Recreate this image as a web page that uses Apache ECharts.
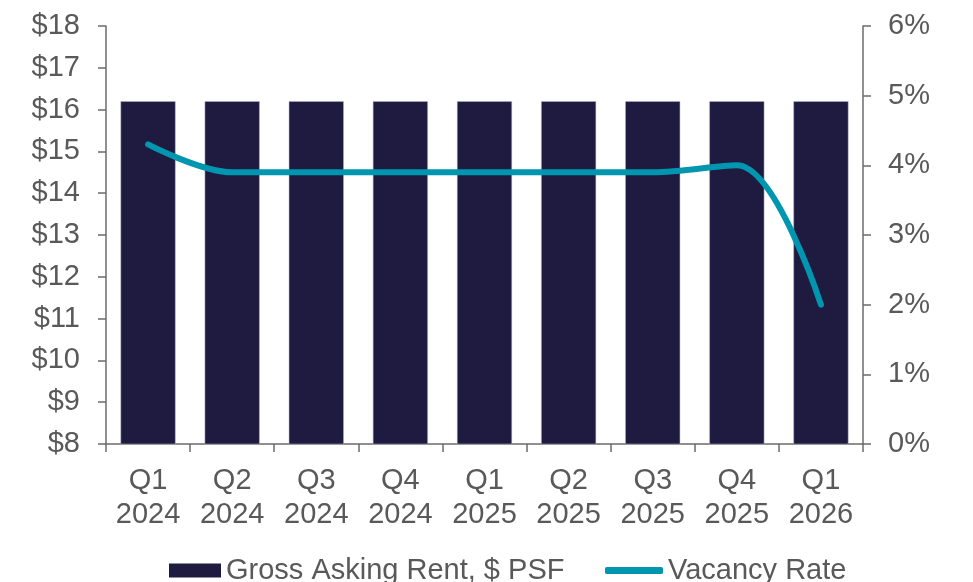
<!DOCTYPE html>
<html>
<head>
<meta charset="utf-8">
<script src="https://cdn.jsdelivr.net/npm/echarts@6/dist/echarts.min.js"></script>
<style>html,body{margin:0;padding:0;background:#fff;}#c{width:973px;height:582px;}</style>
</head>
<body>
<div id="c"></div>
<script>
const categories = ['Q1\n2024','Q2\n2024','Q3\n2024','Q4\n2024','Q1\n2025','Q2\n2025','Q3\n2025','Q4\n2025','Q1\n2026'];
const rentValues = [16.2, 16.2, 16.2, 16.2, 16.2, 16.2, 16.2, 16.2, 16.2];
const vacancyValues = [4.3, 3.9, 3.9, 3.9, 3.9, 3.9, 3.9, 4.0, 2.0];
const rentName = 'Gross Asking Rent, $ PSF';
const vacancyName = 'Vacancy Rate';

const textColor = '#595959';
const axisColor = '#6b6b6b';
const font = 'Liberation Sans, Arial, sans-serif';
const fs = 29;

const chart = echarts.init(document.getElementById('c'));
chart.setOption({
  animation: false,
  textStyle: { fontFamily: font },
  grid: { left: 106, right: 110, top: 26, bottom: 138 },
  legend: [
    {
      data: [rentName], left: 164, top: 551, itemWidth: 52, itemHeight: 14, itemGap: 44,
      icon: 'rect', itemStyle: { borderWidth: 0 },
      textStyle: { color: textColor, fontSize: fs, fontFamily: font }
    },
    {
      data: [{ name: vacancyName, icon: 'roundRect' }], left: 600, top: 551, itemWidth: 58, itemHeight: 7,
      textStyle: { color: textColor, fontSize: fs, fontFamily: font }
    }
  ],
  xAxis: {
    type: 'category', data: categories,
    axisLine: { lineStyle: { color: axisColor, width: 1.5 } },
    axisTick: { show: true, length: 8, lineStyle: { color: axisColor, width: 1.5 } },
    axisLabel: { color: textColor, fontSize: fs, lineHeight: 34, margin: 20, fontFamily: font }
  },
  yAxis: [
    {
      type: 'value', min: 8, max: 18, interval: 1,
      splitLine: { show: false },
      axisLine: { show: true, lineStyle: { color: axisColor, width: 1.5 } },
      axisTick: { show: true, length: 8, lineStyle: { color: axisColor, width: 1.5 } },
      axisLabel: { color: textColor, fontSize: fs, margin: 26, fontFamily: font, formatter: v => '$' + v }
    },
    {
      type: 'value', min: 0, max: 6, interval: 1, position: 'right',
      splitLine: { show: false },
      axisLine: { show: true, lineStyle: { color: axisColor, width: 1.5 } },
      axisTick: { show: true, length: 8, lineStyle: { color: axisColor, width: 1.5 } },
      axisLabel: { color: textColor, fontSize: fs, margin: 25, fontFamily: font, formatter: v => v + '%' }
    }
  ],
  series: [
    {
      name: rentName, type: 'bar', data: rentValues, yAxisIndex: 0, barWidth: 55,
      itemStyle: { color: '#1e1a40', borderColor: '#b8b8c8', borderWidth: 0.5 }
    },
    {
      name: vacancyName, type: 'line', data: vacancyValues, yAxisIndex: 1, smooth: 0.35,
      showSymbol: false, symbol: 'none',
      lineStyle: { color: '#0096b0', width: 6, cap: 'round' },
      itemStyle: { color: '#0096b0' }
    }
  ]
});
</script>
</body>
</html>
